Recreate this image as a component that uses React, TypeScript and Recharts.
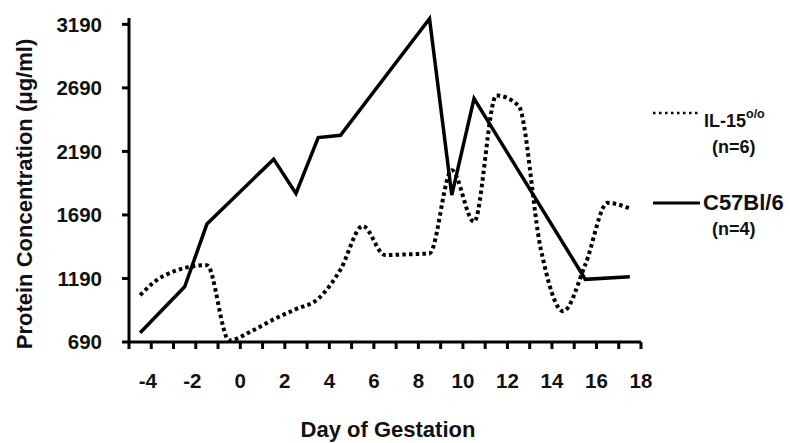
import { LineChart, Line, XAxis, YAxis } from 'recharts'

// day of gestation (half-day points) and protein concentration in µg/ml
const IL15_DAYS = [-4.5, -3.5, -1.5, -0.5, 0.5, 1.5, 2.5, 3.5, 4.5, 5.5, 6.5, 7.5, 8.5, 9.5, 10.5, 11.5, 12.5, 13.5, 14.5, 15.5, 16.5, 17.5]
const IL15_VALUES = [1059, 1205, 1295, 703, 775, 868, 949, 1030, 1260, 1603, 1374, 1380, 1387, 2042, 1636, 2630, 2550, 1420, 932, 1300, 1785, 1741]

const C57_DAYS = [-4.5, -2.5, -1.5, 1.5, 2.5, 3.5, 4.5, 8.5, 9.5, 10.5, 15.5, 17.5]
const C57_VALUES = [763, 1125, 1618, 2129, 1859, 2299, 2317, 3234, 1846, 2606, 1183, 1203]

const X_TICKS = [-5, -4, -3, -2, -1, 0, 1, 2, 3, 4, 5, 6, 7, 8, 9, 10, 11, 12, 13, 14, 15, 16, 17, 18]
const Y_TICKS = [690, 1190, 1690, 2190, 2690, 3190]

const il15Data = IL15_DAYS.map((day, i) => ({ day, value: IL15_VALUES[i] }))
const c57Data = C57_DAYS.map((day, i) => ({ day, value: C57_VALUES[i] }))

const FONT = '"Liberation Sans", Arial, sans-serif'
const TICK_FONT = 20.5

// only even days get a label; the digits sit on the tick, a minus sign hangs left
function DayTick(props: any) {
  const { x, y, payload } = props
  const v = payload.value as number
  if (v % 2 !== 0) return null
  const digits = String(Math.abs(v)).length
  const half = (digits * 0.556 * TICK_FONT) / 2
  return (
    <text x={x + half} y={y} dy="0.71em" textAnchor="end" fontFamily={FONT} fontWeight="bold" fontSize={TICK_FONT} fill="#111">
      {v}
    </text>
  )
}

function App() {
  return (
    <div style={{ position: 'absolute', left: 0, top: 0, width: 790, height: 443, background: '#fff' }}>
      <LineChart width={790} height={443} data={c57Data} margin={{ top: 18, right: 149, bottom: 0, left: 0 }}>
        <XAxis
          dataKey="day"
          type="number"
          domain={[-5, 18]}
          ticks={X_TICKS}
          interval={0}
          height={101}
          tickSize={7}
          tickMargin={24}
          tick={<DayTick />}
          axisLine={{ stroke: '#000', strokeWidth: 3 }}
          tickLine={{ stroke: '#000', strokeWidth: 3 }}
        />
        <YAxis
          type="number"
          domain={[690, 3240]}
          ticks={Y_TICKS}
          interval={0}
          width={129}
          tickSize={7}
          tickMargin={20}
          tick={{ fontFamily: FONT, fontWeight: 'bold', fontSize: TICK_FONT, fill: '#111' }}
          axisLine={{ stroke: '#000', strokeWidth: 3 }}
          tickLine={{ stroke: '#000', strokeWidth: 3 }}
        />
        <Line
          data={il15Data}
          dataKey="value"
          type="monotone"
          stroke="#000"
          strokeWidth={4}
          strokeDasharray="3.5 3.2"
          dot={false}
          activeDot={false}
          isAnimationActive={false}
        />
        <Line
          data={c57Data}
          dataKey="value"
          type="linear"
          stroke="#000"
          strokeWidth={3.5}
          dot={false}
          activeDot={false}
          isAnimationActive={false}
        />
      </LineChart>

      <svg width={790} height={443} style={{ position: 'absolute', left: 0, top: 0, pointerEvents: 'none' }}>
        <g fontFamily={FONT} fontWeight="bold" fill="#111">
          <text x={388} y={437} textAnchor="middle" fontSize={22}>Day of Gestation</text>
          <text transform="translate(32,194) rotate(-90)" textAnchor="middle" fontSize={22}>
            Protein Concentration (μg/ml)
          </text>

          <line x1={653} y1={113} x2={700} y2={113} stroke="#000" strokeWidth={2.5} strokeDasharray="2.5 3.5" />
          <text x={704} y={127} fontSize={18}>
            IL-15<tspan fontSize={12.5} dy={-9}>o/o</tspan>
          </text>
          <text x={712} y={153} fontSize={18}>(n=6)</text>

          <line x1={653} y1={203} x2={700} y2={203} stroke="#000" strokeWidth={3} />
          <text x={703} y={210} fontSize={22}>C57Bl/6</text>
          <text x={712} y={235} fontSize={18}>(n=4)</text>
        </g>
      </svg>
    </div>
  )
}

export default App
